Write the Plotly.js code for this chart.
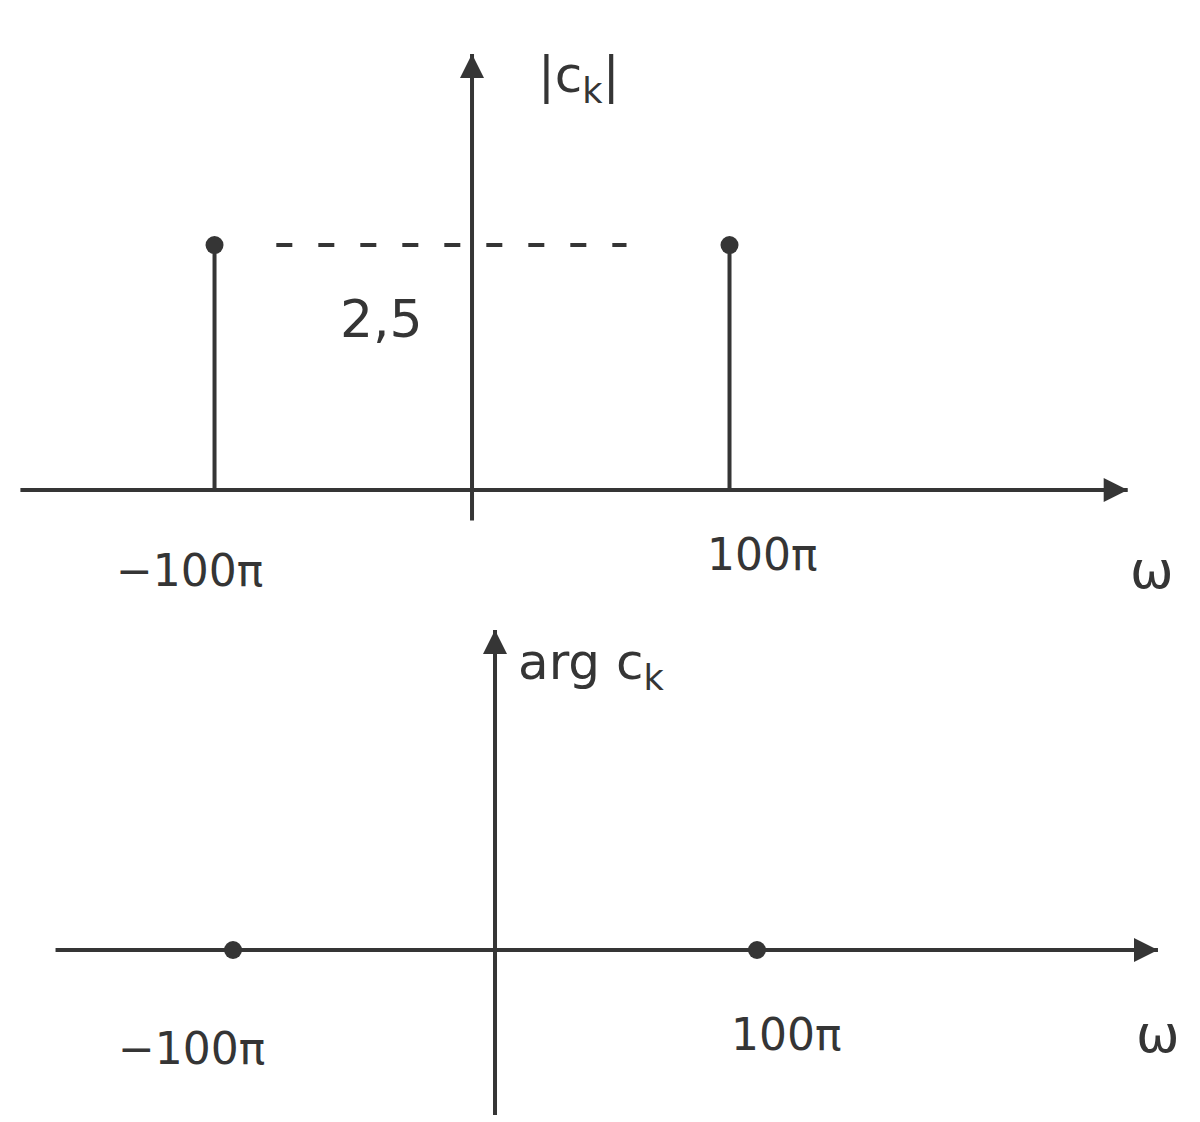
<!DOCTYPE html>
<html>
<head>
<meta charset="utf-8">
<script src="https://cdn.plot.ly/plotly-3.0.1.min.js"></script>
<style>
  html, body { margin: 0; padding: 0; background: #ffffff; }
  #chart { width: 1200px; height: 1122px; }
</style>
</head>
<body>
<div id="chart"></div>
<script>
// Line spectrum of a single cosine: magnitude and phase of the Fourier coefficients
const PI = Math.PI;
const omega = [-100 * PI, 100 * PI];          // spectral line positions (rad/s)
const magnitude = [2.5, 2.5];                 // |c_k|
const phase = [0, 0];                         // arg c_k
const omegaLabels = ['\u2212100\u03c0', '100\u03c0'];
const magLabel = '|c<sub>k</sub>|';
const phaseLabel = 'arg c<sub>k</sub>';
const freqLabel = '\u03c9';

const ink = '#353535';
const font = { family: 'DejaVu Sans, sans-serif', color: ink };

// stems: vertical segments from 0 to each magnitude
const stemX = [], stemY = [];
omega.forEach((w, i) => { stemX.push(w, w, null); stemY.push(0, magnitude[i], null); });

// coordinate axes: lines plus arrowhead markers at their ends
function axisTraces(xa, ya, xFrom, xTo, yFrom, yTo) {
  return [
    { x: [xFrom, xTo, null, 0, 0], y: [0, 0, null, yFrom, yTo], xaxis: xa, yaxis: ya,
      mode: 'lines', line: { color: ink, width: 4 }, hoverinfo: 'skip', showlegend: false },
    { x: [xTo], y: [0], xaxis: xa, yaxis: ya, mode: 'markers', hoverinfo: 'skip', showlegend: false,
      marker: { symbol: 'arrow-right', size: 24, color: ink } },
    { x: [0], y: [yTo], xaxis: xa, yaxis: ya, mode: 'markers', hoverinfo: 'skip', showlegend: false,
      marker: { symbol: 'arrow-up', size: 24, color: ink } }
  ];
}

const traces = [].concat(
  axisTraces('x', 'y', -551, 800, -0.31, 4.45),
  axisTraces('x2', 'y2', -527, 795, -1.65, 3.2),
  [
    { x: stemX, y: stemY, xaxis: 'x', yaxis: 'y', mode: 'lines',
      line: { color: ink, width: 4 }, hoverinfo: 'skip', showlegend: false },
    { x: omega, y: magnitude, xaxis: 'x', yaxis: 'y', mode: 'markers',
      marker: { color: ink, size: 18 }, showlegend: false },
    // dashed guide at the magnitude level
    { x: [omega[0] * 0.76, omega[1] * 0.6], y: [magnitude[0], magnitude[1]],
      xaxis: 'x', yaxis: 'y', mode: 'lines',
      line: { color: ink, width: 4, dash: '16px,26px' }, hoverinfo: 'skip', showlegend: false },
    { x: omega, y: phase, xaxis: 'x2', yaxis: 'y2', mode: 'markers',
      marker: { color: ink, size: 18 }, showlegend: false }
  ]
);

const hidden = { visible: false, showgrid: false, zeroline: false, fixedrange: true };
const split = 1 - 600 / 1122;

function label(xref, yref, x, y, text, size) {
  return { xref: xref, yref: yref, x: x, y: y, text: text, showarrow: false,
           font: Object.assign({ size: size }, font) };
}

const annotations = [
  label('x', 'y', 130, 4.2, magLabel, 50),
  label('x', 'y', -110, 1.75, String(magnitude[0]).replace('.', ','), 52),
  label('x', 'y', omega[0] - 30, -0.82, omegaLabels[0], 44),
  label('x', 'y', omega[1] + 40, -0.66, omegaLabels[1], 44),
  label('x', 'y', 830, -0.82, freqLabel, 52),
  label('x2', 'y2', 115, 2.85, phaseLabel, 50),
  label('x2', 'y2', omega[0] - 50, -0.98, omegaLabels[0], 44),
  label('x2', 'y2', omega[1] + 35, -0.84, omegaLabels[1], 44),
  label('x2', 'y2', 795, -0.84, freqLabel, 52)
];

const layout = {
  width: 1200, height: 1122,
  margin: { l: 0, r: 0, t: 0, b: 0 },
  paper_bgcolor: '#ffffff', plot_bgcolor: '#ffffff',
  showlegend: false,
  xaxis: Object.assign({ range: [-575.9, 888.2], domain: [0, 1], anchor: 'y' }, hidden),
  yaxis: Object.assign({ range: [-1.122, 5.0], domain: [split, 1], anchor: 'x' }, hidden),
  xaxis2: Object.assign({ range: [-593.6, 845.4], domain: [0, 1], anchor: 'y2' }, hidden),
  yaxis2: Object.assign({ range: [-1.72, 3.5], domain: [0, split], anchor: 'x2' }, hidden),
  annotations: annotations
};

Plotly.newPlot('chart', traces, layout, { staticPlot: true, displayModeBar: false });
</script>
</body>
</html>
